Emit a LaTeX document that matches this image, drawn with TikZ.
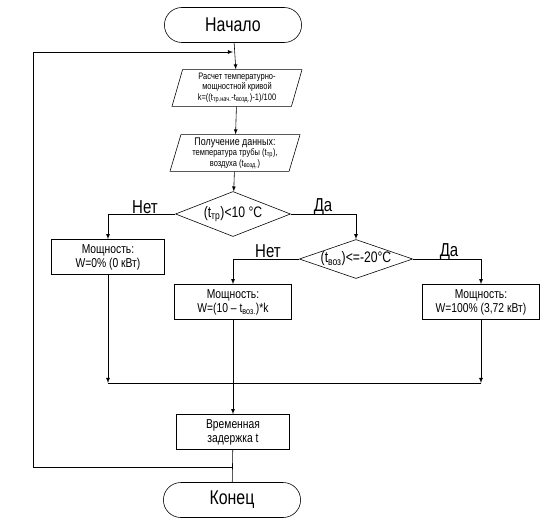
\documentclass[tikz,border=0pt]{standalone}
\usepackage{fontspec}
\setmainfont{Liberation Sans}[FakeStretch=0.8]
\usetikzlibrary{shapes.geometric,shapes.misc,arrows}
\newcommand\sub[1]{\textsubscript{#1}}
\tikzset{
  term/.style={draw, rounded rectangle, minimum width=4.35cm, minimum height=1.05cm, font=\fontsize{17}{17}\selectfont},
  iobox/.style={draw, trapezium, trapezium left angle=72, trapezium right angle=108, trapezium stretches body, minimum width=3.9cm, minimum height=1.1cm, align=center, inner sep=1pt, font=\fontsize{8}{9}\selectfont},
  cond/.style={draw, diamond, inner sep=0pt, align=center, font=\fontsize{13}{14}\selectfont},
  act/.style={draw, rectangle, minimum width=3.45cm, minimum height=1.05cm, align=center, inner sep=1pt, font=\fontsize{11}{12}\selectfont},
  lbl/.style={font=\fontsize{16}{16}\selectfont},
  flow/.style={-latex},
}
\begin{document}
\begin{tikzpicture}[x=0.03cm, y=-0.03cm, line width=0.5pt]
    \useasboundingbox (0,0) rectangle (552,525);
    \node[term] (start) at (233,25) {Начало};
    \node[iobox] (calc) at (237,88) {Расчет температурно-\\мощностной кривой\\k=((t\sub{тр.нач.}-t\sub{возд.})-1)/100};
    \node[iobox] (input) at (235,153) {{\fontsize{9.5}{10}\selectfont Получение данных:}\\температура трубы (t\sub{тр}),\\воздуха (t\sub{возд.})};
    \node[cond, aspect=2.6, minimum width=3.45cm, minimum height=1.35cm] (dec1) at (233,214) {(t\sub{тр})<10 °C};
    \node[act, minimum width=3.4cm] (pw0) at (108,257) {Мощность:\\W=0\% (0 кВт)};
    \node[cond, aspect=2.9, minimum width=3.4cm, minimum height=1.17cm] (dec2) at (356,259) {(t\sub{воз})<=-20°C};
    \node[act, minimum width=3.5cm] (pwk) at (233,302) {Мощность:\\W=(10 – t\sub{воз.})*k};
    \node[act, minimum width=3.5cm] (pw100) at (481,302) {Мощность:\\W=100\% (3,72 кВт)};
    \node[act, minimum width=3.4cm] (delay) at (233,432) {Временная\\задержка t};
    \node[term] (stop) at (232,500) {Конец};
    \node[lbl] (no1) at (145,207) {Нет};
    \node[lbl] (yes1) at (323,207) {Да};
    \node[lbl] (no2) at (268,251) {Нет};
    \node[lbl] (yes2) at (449,252) {Да};
    \coordinate (mergeL) at (108,383);
    \coordinate (mergeR) at (481,383);
    \coordinate (back) at (233,467);
    \coordinate (corner) at (33,467);
    \coordinate (loopin) at (233,52);
    \draw[flow] (start) -- (calc);
    \draw[flow] (calc) -- (input);
    \draw[flow] (input) -- (dec1);
    \draw[flow] (dec1.west) -| (pw0.north);
    \draw[flow] (dec1.east) -| (dec2.north);
    \draw[flow] (dec2.west) -| (pwk.north);
    \draw[flow] (dec2.east) -| (pw100.north);
    \draw[flow] (pw0.south) -- (mergeL);
    \draw[flow] (pw100.south) -- (mergeR);
    \draw (mergeL) -- (mergeR);
    \draw[flow] (pwk) -- (delay);
    \draw (delay) -- (stop);
    \draw[flow] (back) -- (corner) |- (loopin);
\end{tikzpicture}
\end{document}
